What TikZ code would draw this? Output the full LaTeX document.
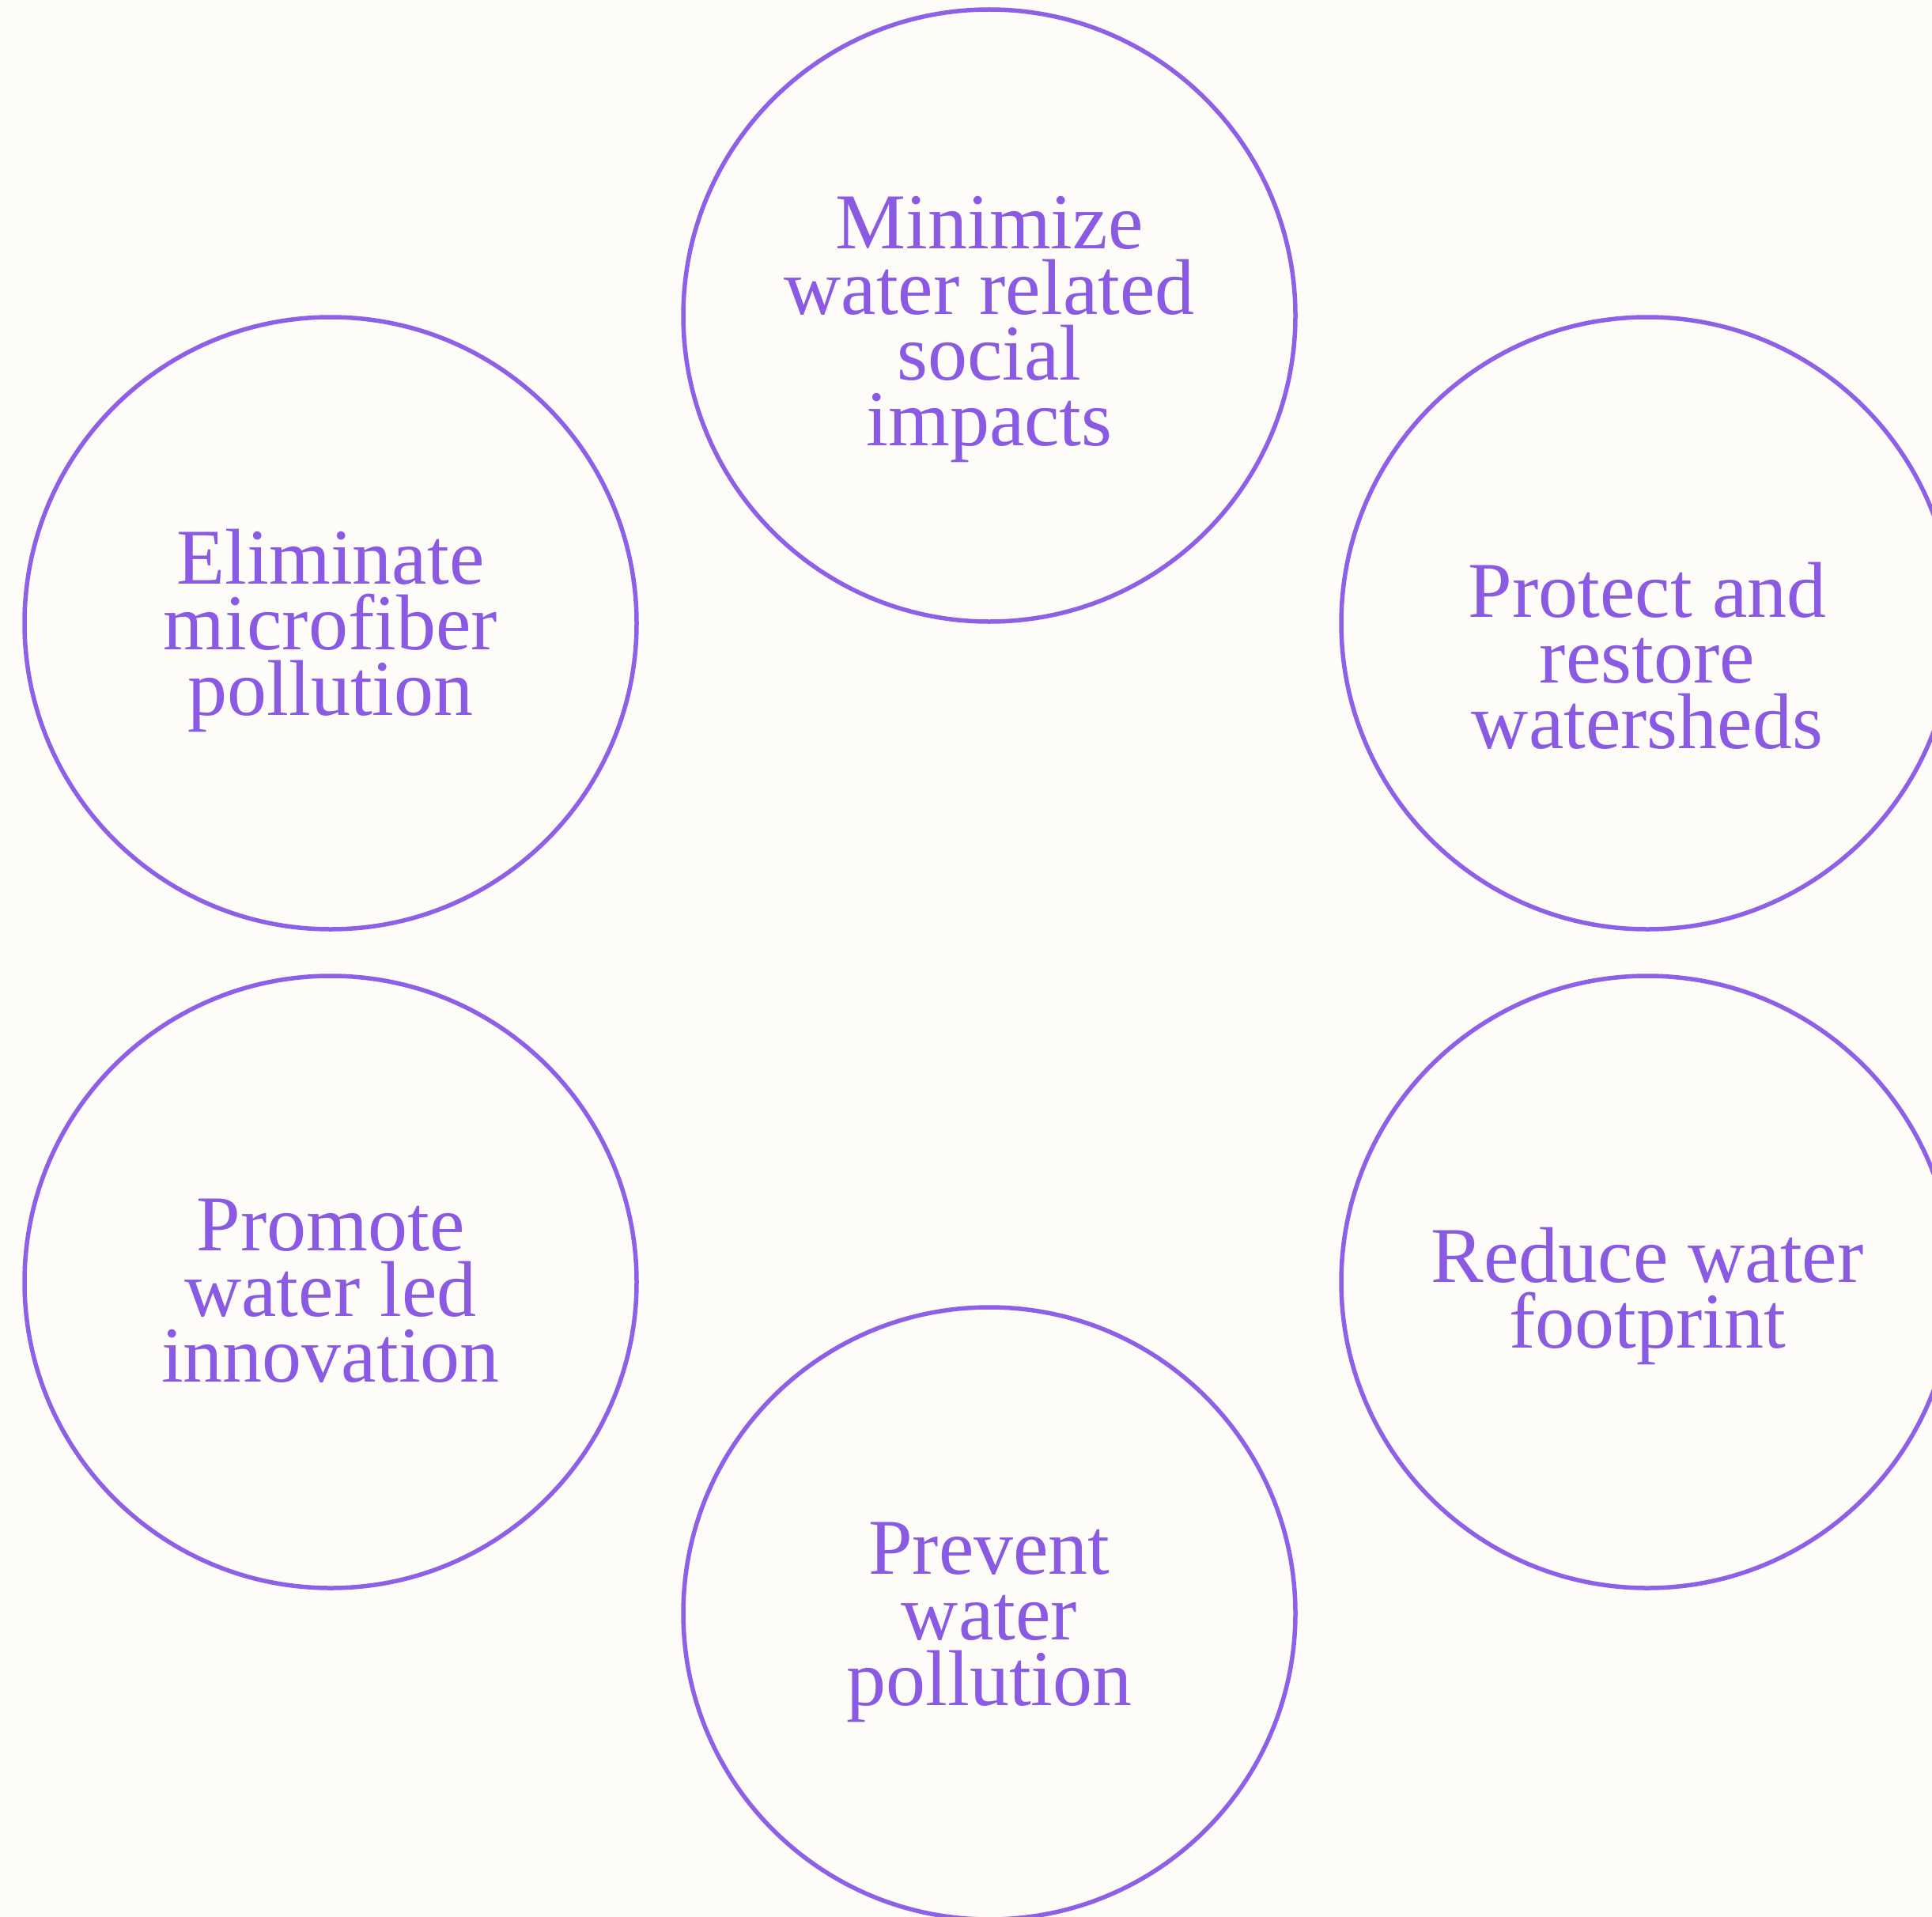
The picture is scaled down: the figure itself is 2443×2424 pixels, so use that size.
\documentclass[tikz,border=0pt]{standalone}
\usepackage{fontspec}
\setmainfont{Liberation Serif}
\definecolor{bgc}{HTML}{FDFCF8}
\definecolor{ringc}{HTML}{8E60E8}
\definecolor{txtc}{HTML}{8A5AE2}
\newcommand\stacklines[1]{\vtop{\baselineskip=83pt\lineskiplimit=-1000pt\lineskip=0pt\halign{\hfil##\hfil\cr#1\crcr}}}
\tikzset{
  ring/.style={circle, draw=ringc, line width=5.5pt, minimum size=774pt, inner sep=0pt},
  lbl/.style={anchor=base, inner sep=0pt, text=txtc, font=\fontsize{100pt}{83pt}\selectfont}
}
\begin{document}
\begin{tikzpicture}[x=1pt,y=-1pt]
\fill[bgc] (0,0) rectangle (2443,2424);
\useasboundingbox (0,0) rectangle (2443,2424);
\begin{scope}
\clip (0,0) rectangle (2443,2424);
\node[ring] (c1) at (1251,399) {};
\node[ring] (c2) at (418,788) {};
\node[ring] (c3) at (2083,788) {};
\node[ring] (c4) at (418,1621) {};
\node[ring] (c5) at (2083,1621) {};
\node[ring] (c6) at (1251,2040) {};
\end{scope}
\node[lbl] (t1) at (1251,314) {\stacklines{Minimize\cr water related\cr social\cr impacts}};
\node[lbl] (t2) at (418,738) {\stacklines{Eliminate\cr microfiber\cr pollution}};
\node[lbl] (t3) at (2083,780) {\stacklines{Protect and\cr restore\cr watersheds}};
\node[lbl] (t4) at (418,1581) {\stacklines{Promote\cr water led\cr innovation}};
\node[lbl] (t5) at (2083,1621) {\stacklines{Reduce water\cr footprint}};
\node[lbl] (t6) at (1251,1990) {\stacklines{Prevent\cr water\cr pollution}};
\end{tikzpicture}
\end{document}
